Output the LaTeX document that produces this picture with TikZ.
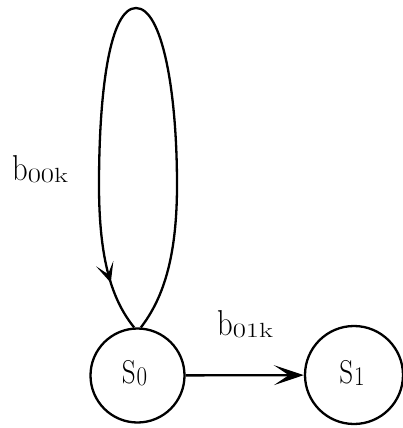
\documentclass[tikz,border=0pt]{standalone}
\usepackage{fontspec}
\usepackage{graphicx}
\setmainfont{Latin Modern Roman}
\usetikzlibrary{arrows.meta,decorations.markings}
\newcommand{\mybsub}[1]{\scalebox{0.85}[1]{\fontsize{36}{36}\selectfont b}\raisebox{-2.5pt}{\scalebox{1.4}[1]{\fontsize{20.5}{20}\selectfont #1}}}
\newcommand{\mystate}[1]{\scalebox{0.82}[1]{\fontsize{33}{33}\selectfont S}\kern1pt\raisebox{-2pt}{\scalebox{0.85}[1]{\fontsize{27}{27}\selectfont #1}}}
\begin{document}
\begin{tikzpicture}[x=1pt,y=-1pt,line width=2.3pt,
  state/.style={draw,circle,inner sep=0pt},
  lbl/.style={inner sep=0pt},
  tipA/.style={-{Stealth[length=30pt,width=20pt,inset=15pt]}},
  looparrow/.style={decoration={markings,mark=at position 0.925 with {\arrow{Stealth[length=20pt,width=18pt,inset=11pt]}}},postaction=decorate}]
\useasboundingbox (0,0) rectangle (402,428);
\node[state,minimum size=94pt] (s0) at (137.5,375.5) {};
\node[state,minimum size=98pt] (s1) at (354,375) {};
\node[lbl,anchor=base] (t0) at (134.5,383.5) {\mystate{0}};
\node[lbl,anchor=base] (t1) at (352,383.5) {\mystate{1}};
\draw[looparrow] (s0.86) .. controls (162,300) and (177,260) .. (177,185)
  .. controls (177,90) and (162,8) .. (136,8)
  .. controls (110,8) and (99,90) .. (99,185)
  .. controls (99,260) and (112,300) .. (s0.94);
\draw[tipA] (s0) -- (s1);
\node[lbl,anchor=base west] (l0) at (11,180) {\mybsub{00k}};
\node[lbl,anchor=base west] (l1) at (216,335) {\mybsub{01k}};
\end{tikzpicture}
\end{document}
